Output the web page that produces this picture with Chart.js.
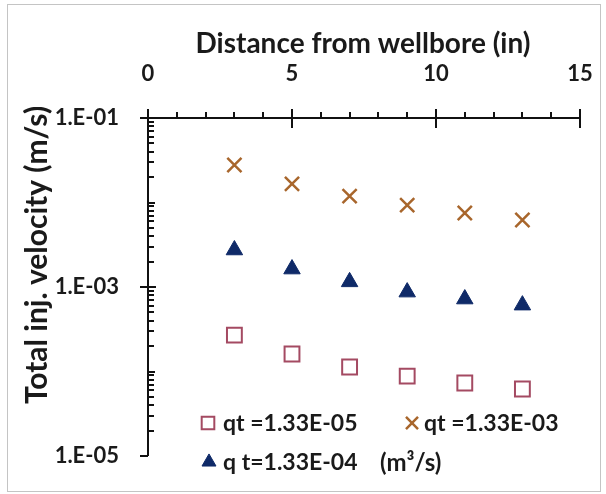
<!DOCTYPE html>
<html>
<head>
<meta charset="utf-8">
<script src="https://cdn.jsdelivr.net/npm/chart.js@4.4.1/dist/chart.umd.min.js"></script>
<style>
  html, body { margin: 0; padding: 0; background: #fff; }
  #wrap { position: relative; width: 606px; height: 494px; }
  #frame {
    position: absolute; left: 7px; top: 4px; width: 592px; height: 486px;
    border: 1px solid #c4c4c4; pointer-events: none;
  }
</style>
</head>
<body>
<div id="wrap">
  <canvas id="velocityChart" width="606" height="494"></canvas>
  <div id="frame"></div>
</div>
<script>
// distance from wellbore (in)
const distance = [3, 5, 7, 9, 11, 13];

// total injection velocity (m/s) for each rate
const velLow  = [2.70e-4, 1.61e-4, 1.13e-4, 8.8e-5, 7.3e-5, 6.2e-5];   // qt = 1.33E-05
const velHigh = [2.78e-2, 1.66e-2, 1.19e-2, 9.3e-3, 7.5e-3, 6.2e-3];   // qt = 1.33E-03
const velMid  = [2.74e-3, 1.63e-3, 1.15e-3, 8.7e-4, 7.2e-4, 6.1e-4];   // qt = 1.33E-04

const seriesLabels = ["qt =1.33E-05", "qt =1.33E-03", "q t=1.33E-04"];
const unitsLabel = "(m\u00B3/s)";

const xTicks = [0, 5, 10, 15];
const yTicks = [1e-5, 1e-3, 1e-1];
const yTickLabels = ["1.E-05", "1.E-03", "1.E-01"];

const xTitle = "Distance from wellbore (in)";
const yTitle = "Total inj. velocity (m/s)";

const FONT = "Lato, 'Open Sans', sans-serif";
const toPoints = ys => distance.map((x, i) => ({ x: x, y: ys[i] }));

// axis lines, tick marks, titles and the legend box
const decorPlugin = {
  id: "decor",
  afterDatasetsDraw(chart) {
    const ctx = chart.ctx;
    const { left, right, top, bottom } = chart.chartArea;
    const xs = chart.scales.x, ys = chart.scales.y;
    ctx.save();
    ctx.strokeStyle = "#111";
    ctx.lineWidth = 2;
    ctx.beginPath();
    ctx.moveTo(left, top); ctx.lineTo(right, top);
    ctx.moveTo(left, top); ctx.lineTo(left, bottom);
    // x ticks: minor outward every 1, major crossing every 5
    for (let v = 0; v <= 15; v++) {
      const px = Math.round(xs.getPixelForValue(v));
      if (v % 5 === 0) { ctx.moveTo(px, top - 9); ctx.lineTo(px, top + 10); }
      else { ctx.moveTo(px, top - 6); ctx.lineTo(px, top); }
    }
    // y ticks: log minors inside, majors crossing
    for (let e = -5; e <= -1; e++) {
      const py = Math.round(ys.getPixelForValue(Math.pow(10, e)));
      if (e === -5) { ctx.moveTo(left - 8, py); ctx.lineTo(left, py); }
      else if (e % 2 !== 0) { ctx.moveTo(left - 8, py); ctx.lineTo(left + 8, py); }
      else { ctx.moveTo(left, py); ctx.lineTo(left + 7, py); }
      if (e < -1) {
        for (let m = 2; m <= 9; m++) {
          const pm = Math.round(ys.getPixelForValue(m * Math.pow(10, e)));
          ctx.moveTo(left, pm); ctx.lineTo(left + 6, pm);
        }
      }
    }
    ctx.stroke();

    // axis titles
    ctx.fillStyle = "#1a1a1a";
    ctx.textAlign = "center";
    ctx.textBaseline = "middle";
    ctx.font = "bold 28px " + FONT;
    ctx.fillText(xTitle, 363, 44);
    ctx.save();
    ctx.translate(37, 255);
    ctx.rotate(-Math.PI / 2);
    ctx.font = "bold 30px " + FONT;
    ctx.fillText(yTitle, 0, 0);
    ctx.restore();

    // legend
    const items = [
      { ds: 0, mx: 208, my: 423, tx: 223 },
      { ds: 1, mx: 412, my: 423, tx: 424 },
      { ds: 2, mx: 209, my: 462, tx: 223 }
    ];
    ctx.font = "bold 23px " + FONT;
    ctx.textAlign = "left";
    items.forEach(it => {
      const d = chart.data.datasets[it.ds];
      ctx.strokeStyle = d.borderColor;
      ctx.fillStyle = d.backgroundColor;
      ctx.lineWidth = d.borderWidth;
      Chart.helpers.drawPoint(ctx, {
        pointStyle: d.pointStyle, radius: d.pointRadius * 0.85,
        rotation: 0, borderWidth: d.borderWidth
      }, it.mx, it.my);
      ctx.fillStyle = "#1a1a1a";
      ctx.fillText(d.label, it.tx, it.my + 1);
    });
    ctx.font = "bold 24px " + FONT;
    ctx.fillText(unitsLabel, 380, 463);
    ctx.restore();
  }
};

const ctx = document.getElementById("velocityChart").getContext("2d");

new Chart(ctx, {
  type: "scatter",
  data: {
    datasets: [
      {
        label: seriesLabels[0],
        data: toPoints(velLow),
        pointStyle: "rect",
        pointRadius: 10.5,
        borderWidth: 2,
        borderColor: "#a44a62",
        backgroundColor: "rgba(255,255,255,0)"
      },
      {
        label: seriesLabels[1],
        data: toPoints(velHigh),
        pointStyle: "crossRot",
        pointRadius: 10,
        borderWidth: 2.5,
        borderColor: "#a8662c",
        backgroundColor: "#a8662c"
      },
      {
        label: seriesLabels[2],
        data: toPoints(velMid),
        pointStyle: "triangle",
        pointRadius: 9.5,
        borderWidth: 1,
        borderColor: "#0f2a68",
        backgroundColor: "#0f2a68"
      }
    ]
  },
  plugins: [decorPlugin],
  options: {
    responsive: false,
    animation: false,
    layout: { padding: { left: 0, top: 0, right: 26, bottom: 38 } },
    plugins: { legend: { display: false }, tooltip: { enabled: false } },
    scales: {
      x: {
        type: "linear",
        position: "top",
        min: 0,
        max: 15,
        afterBuildTicks: s => { s.ticks = xTicks.map(v => ({ value: v })); },
        afterFit: s => { s.height = 118; s.paddingLeft = 0; s.paddingRight = 0; },
        grid: { display: false },
        border: { display: false },
        ticks: {
          padding: 23,
          color: "#1a1a1a",
          font: { family: FONT, size: 22, weight: "bold" },
          maxRotation: 0
        }
      },
      y: {
        type: "logarithmic",
        min: 1e-5,
        max: 1e-1,
        afterBuildTicks: s => { s.ticks = yTicks.map(v => ({ value: v })); },
        afterFit: s => { s.width = 148; s.paddingTop = 0; s.paddingBottom = 0; },
        grid: { display: false },
        border: { display: false },
        ticks: {
          padding: 21,
          color: "#1a1a1a",
          font: { family: FONT, size: 22, weight: "bold" },
          callback: v => yTickLabels[yTicks.findIndex(t => Math.abs(t - v) / t < 1e-6)]
        }
      }
    }
  }
});
</script>
</body>
</html>
